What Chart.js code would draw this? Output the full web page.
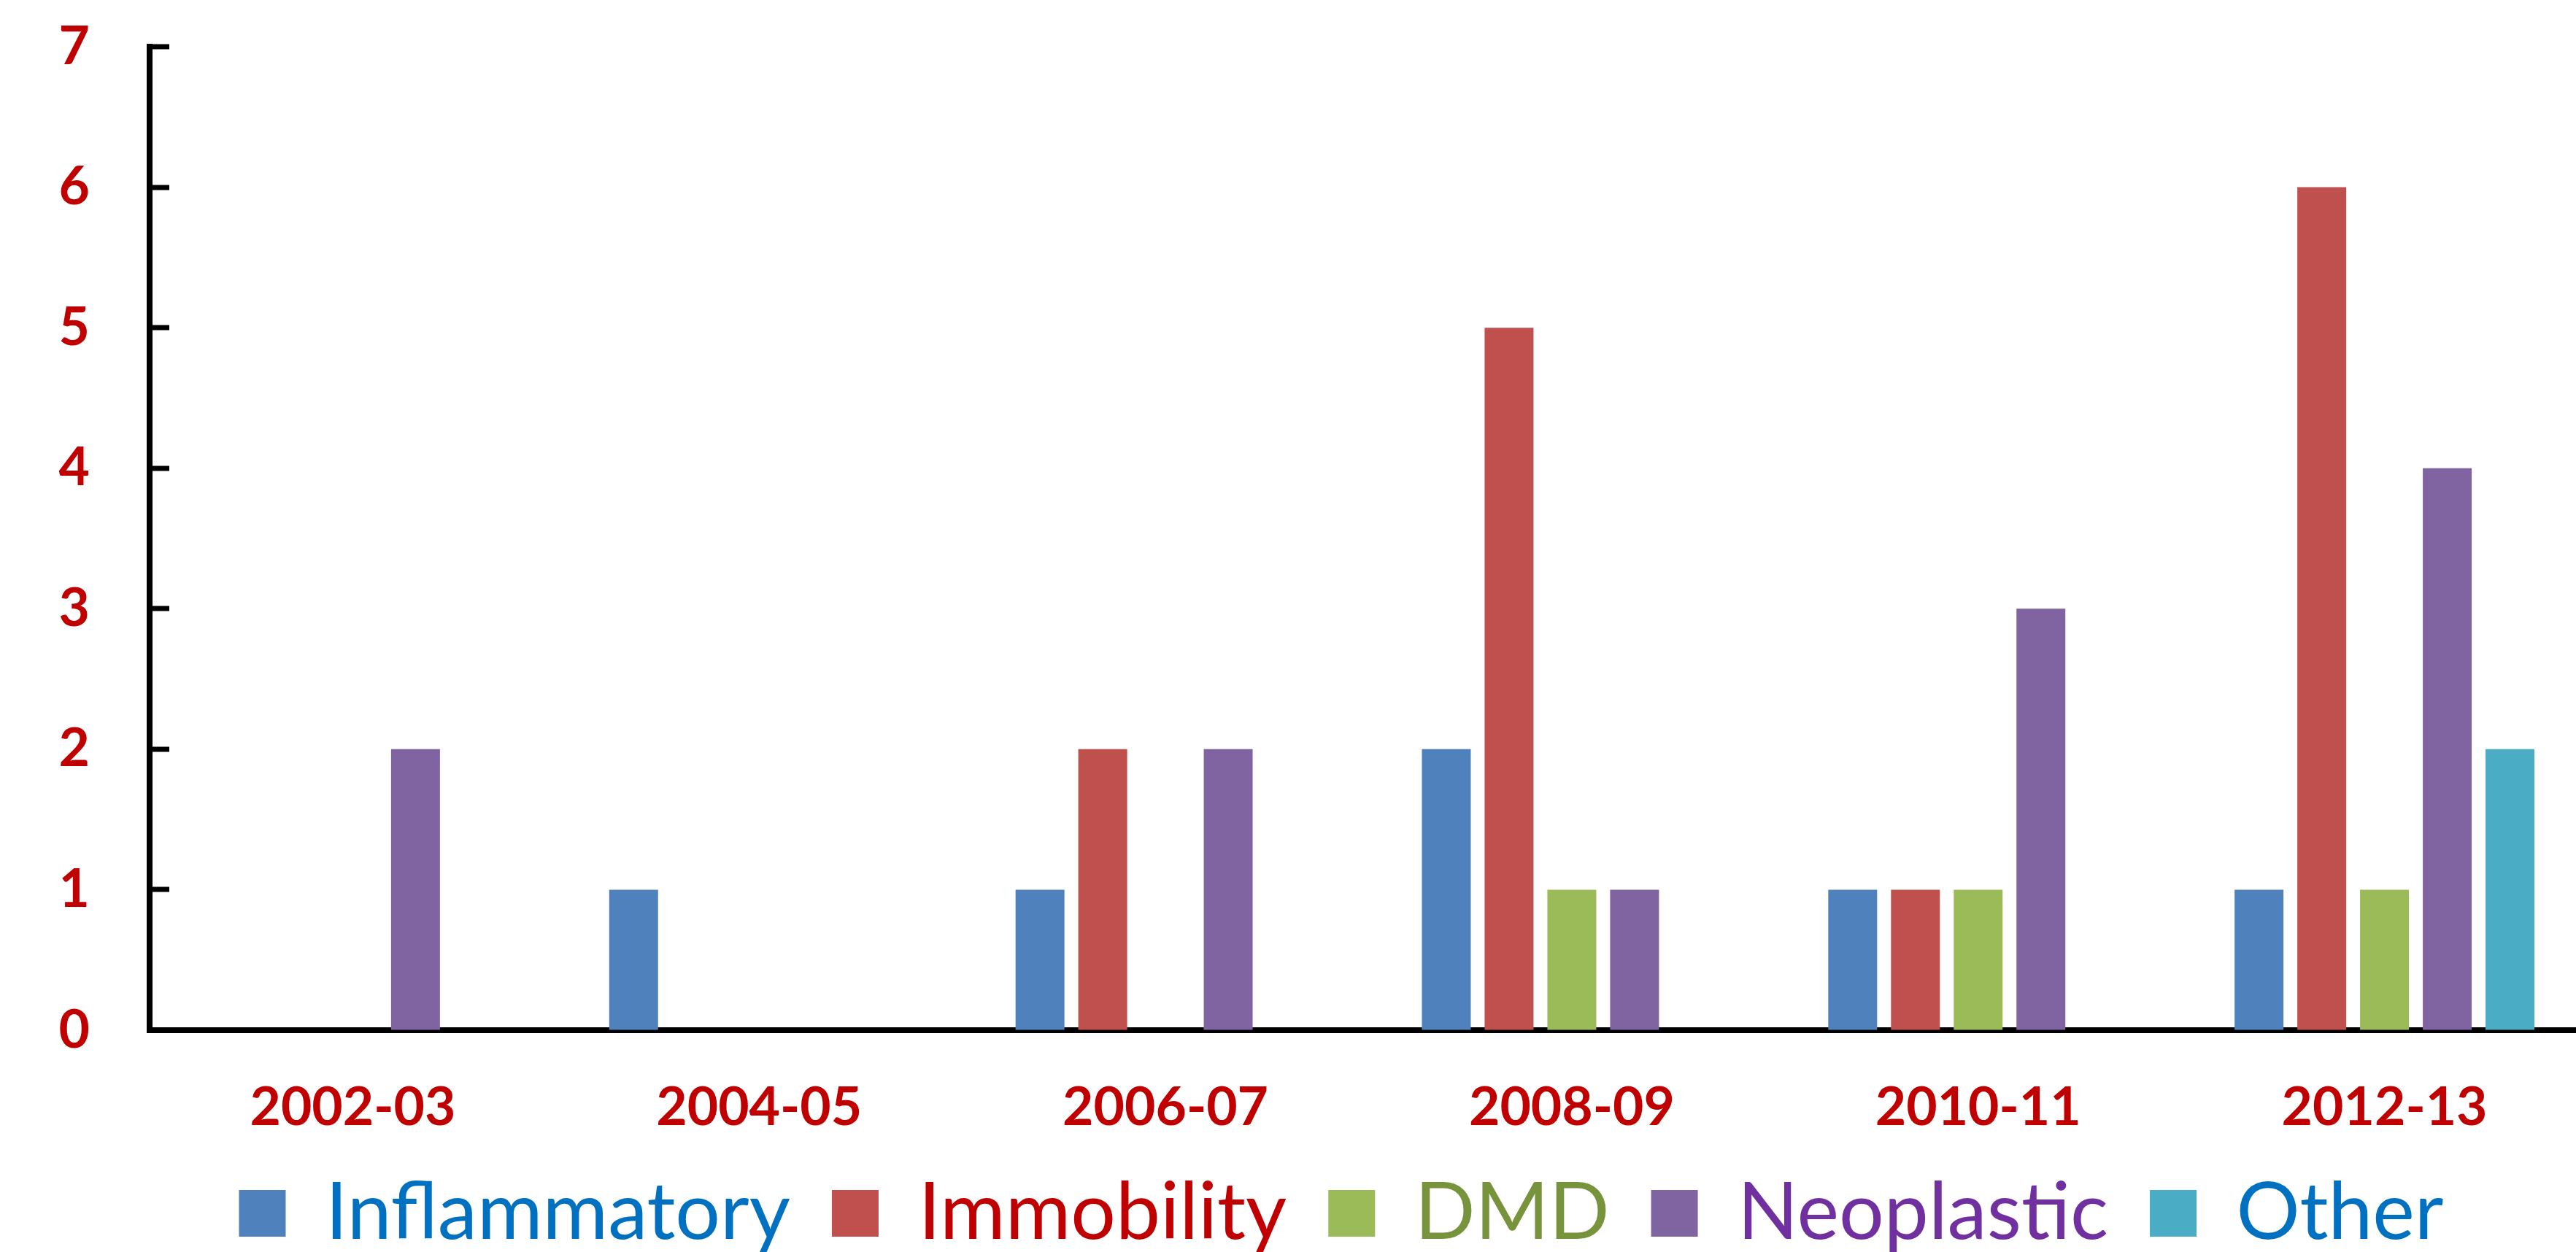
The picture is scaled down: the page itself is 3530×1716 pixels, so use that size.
<!DOCTYPE html>
<html>
<head>
<meta charset="utf-8">
<script src="https://cdn.jsdelivr.net/npm/chart.js@4.4.0/dist/chart.umd.min.js"></script>
<style>
  html, body { margin: 0; padding: 0; background: #fff; overflow: hidden; }
  #wrap { width: 3546px; height: 1716px; }
</style>
</head>
<body>
<div id="wrap"><canvas id="chart" width="3546" height="1716"></canvas></div>
<script>
// data
const periods = ["2002-03", "2004-05", "2006-07", "2008-09", "2010-11", "2012-13"];
const seriesNames = ["Inflammatory", "Immobility", "DMD", "Neoplastic", "Other"];
const inflammatory = [0, 1, 1, 2, 1, 1];
const immobility = [0, 0, 2, 5, 1, 6];
const dmd = [0, 0, 0, 1, 1, 1];
const neoplastic = [2, 0, 2, 1, 3, 4];
const other = [0, 0, 0, 0, 0, 2];
const yTicks = [0, 1, 2, 3, 4, 5, 6, 7];

const barColors = ["#4F81BD", "#C0504D", "#9BBB59", "#8064A2", "#4BACC6"];
const legendColors = ["#0070C0", "#C00000", "#77933C", "#7030A0", "#0070C0"];
const red = "#C00000";

// Calibri is not here, so size Lato to the widths seen in the picture
function fitSize(text, width, weight) {
  const ctx = document.createElement("canvas").getContext("2d");
  ctx.font = weight + " 100px Lato";
  return (100 * width) / ctx.measureText(text).width;
}
const tickSize = fitSize("2002-03", 282, "bold");
const legendSize = fitSize("Inflammatory", 637, "normal");
const legendGap = 57;

const allValues = [inflammatory, immobility, dmd, neoplastic, other];

const datasets = seriesNames.map(function (name, i) {
  return {
    label: name,
    data: allValues[i],
    backgroundColor: barColors[i],
    borderWidth: 0,
    categoryPercentage: 0.772,
    barPercentage: 0.779,
  };
});

// short tick marks pointing into the plot, as in the original
const innerTicks = {
  id: "innerTicks",
  afterDraw: function (chart) {
    const ctx = chart.ctx;
    const y = chart.scales.y;
    const left = chart.chartArea.left;
    ctx.save();
    ctx.strokeStyle = "#000";
    ctx.lineWidth = 7;
    yTicks.forEach(function (v) {
      const py = Math.round(y.getPixelForValue(v));
      ctx.beginPath();
      ctx.moveTo(left, py);
      ctx.lineTo(left + 27, py);
      ctx.stroke();
    });
    ctx.restore();
  },
};

// the legend row sits a bit right of centre and close under the labels
const legendPlace = {
  id: "legendPlace",
  afterLayout: function (chart) {
    const lg = chart.legend;
    lg.left = 130;
    lg.top = 1663 - legendSize / 2 - legendGap;
  },
};

new Chart(document.getElementById("chart"), {
  type: "bar",
  data: { labels: periods, datasets: datasets },
  plugins: [innerTicks, legendPlace],
  options: {
    responsive: false,
    animation: false,
    devicePixelRatio: 1,
    layout: { padding: { left: 0, top: 64, right: 0, bottom: 0 } },
    plugins: {
      tooltip: { enabled: false },
      legend: {
        position: "bottom",
        maxHeight: 150,
        labels: {
          boxWidth: 64,
          boxHeight: 64,
          padding: legendGap,
          font: { family: "Lato", size: legendSize },
          generateLabels: function (chart) {
            return chart.data.datasets.map(function (ds, i) {
              return {
                text: ds.label,
                fillStyle: ds.backgroundColor,
                strokeStyle: ds.backgroundColor,
                lineWidth: 0,
                fontColor: legendColors[i],
                hidden: false,
                datasetIndex: i,
              };
            });
          },
        },
      },
    },
    scales: {
      x: {
        grid: { drawOnChartArea: false, drawTicks: false },
        border: { display: true, color: "#000", width: 8 },
        ticks: {
          color: red,
          padding: 106 - tickSize * 0.6,
          maxRotation: 0,
          font: { family: "Lato", weight: "bold", size: tickSize },
        },
        afterFit: function (scale) {
          scale.height = 154;
        },
      },
      y: {
        min: 0,
        max: 7,
        grid: {
          drawOnChartArea: false,
          drawTicks: true,
          tickLength: 82,
          tickColor: "rgba(0,0,0,0)",
        },
        border: { display: true, color: "#000", width: 8 },
        afterBuildTicks: function (scale) {
          scale.ticks = yTicks.map(function (v) {
            return { value: v };
          });
        },
        ticks: {
          color: red,
          padding: 0,
          font: { family: "Lato", weight: "bold", size: tickSize },
        },
        afterFit: function (scale) {
          scale.width = 205;
        },
      },
    },
  },
});
</script>
</body>
</html>
